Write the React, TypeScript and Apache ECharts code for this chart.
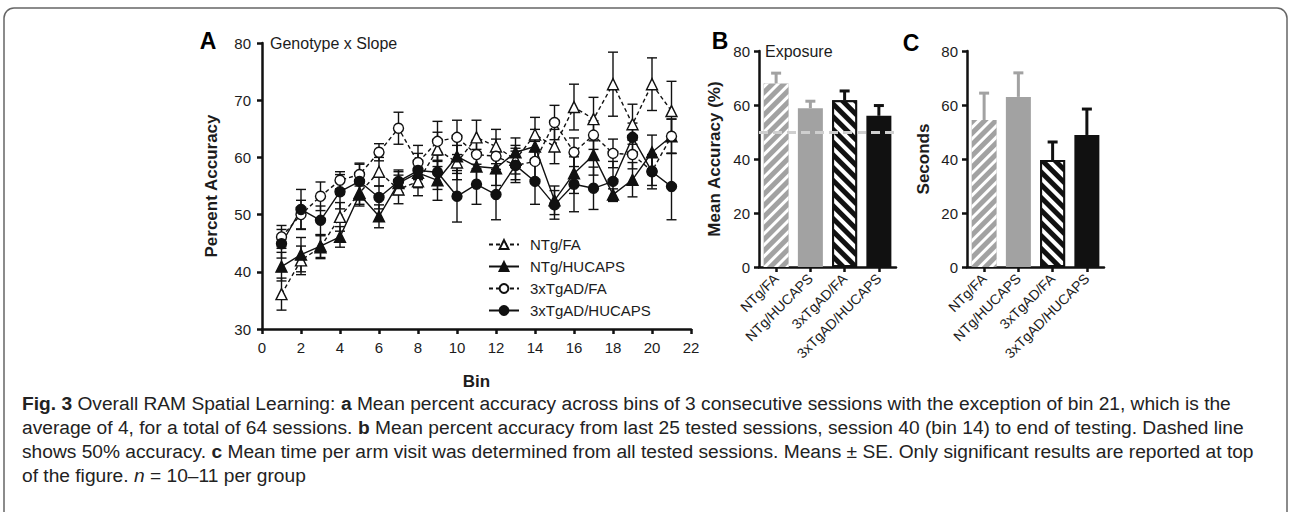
import React, { useEffect, useRef } from 'react';
import * as echarts from 'echarts';

const FONT = '"Liberation Sans", Arial, sans-serif';

// Panel A data
const bins = [1, 2, 3, 4, 5, 6, 7, 8, 9, 10, 11, 12, 13, 14, 15, 16, 17, 18, 19, 20, 21];
const lineNames = ['NTg/FA', 'NTg/HUCAPS', '3xTgAD/FA', '3xTgAD/HUCAPS'];
const ntgFA = [36.1, 42.0, 44.3, 49.6, 53.8, 57.5, 54.4, 55.8, 61.4, 59.1, 63.5, 61.9, 59.6, 64.0, 61.9, 68.8, 66.7, 72.8, 65.8, 72.8, 68.1];
const ntgFAse = [2.8, 2.5, 2.0, 2.5, 2.0, 2.5, 2.5, 2.5, 3.0, 3.0, 3.0, 3.0, 2.5, 3.0, 3.0, 4.0, 3.8, 5.6, 3.5, 4.6, 5.2];
const ntgHU = [40.9, 43.0, 44.5, 46.1, 53.5, 49.7, 55.5, 57.3, 56.0, 60.2, 58.4, 58.1, 60.9, 61.9, 52.5, 57.2, 60.4, 53.5, 56.1, 60.9, 63.7];
const ntgHUse = [2.5, 3.0, 2.0, 1.8, 2.0, 2.0, 2.0, 2.0, 3.5, 3.0, 3.0, 3.0, 2.5, 3.0, 2.5, 3.5, 3.5, 1.0, 3.0, 3.0, 3.0];
const tgFA = [46.1, 50.0, 53.2, 56.0, 57.0, 60.9, 65.1, 59.1, 62.8, 63.5, 60.5, 60.2, 58.6, 59.3, 66.1, 60.9, 63.9, 60.7, 60.5, 57.6, 63.7];
const tgFAse = [2.0, 2.5, 2.5, 1.5, 2.0, 1.5, 2.8, 3.0, 3.5, 3.0, 2.5, 3.0, 2.5, 3.5, 3.0, 2.5, 2.5, 2.5, 2.5, 2.5, 3.0];
const tgHU = [44.9, 50.9, 49.0, 54.0, 55.8, 53.0, 55.8, 57.7, 57.4, 53.2, 55.3, 53.5, 58.6, 55.8, 51.7, 55.3, 54.6, 55.8, 63.5, 57.5, 54.9];
const tgHUse = [2.5, 3.5, 2.5, 3.0, 3.0, 2.0, 2.0, 3.0, 3.0, 4.5, 3.5, 4.4, 3.0, 4.0, 2.5, 4.8, 3.7, 3.5, 2.5, 3.0, 5.8];

// Panels B and C data
const groups = ['NTg/FA', 'NTg/HUCAPS', '3xTgAD/FA', '3xTgAD/HUCAPS'];
const accMeans = [68.0, 58.8, 61.8, 56.0];
const accSE = [3.8, 2.6, 3.4, 3.8];
const chanceLevel = 50;
const secMeans = [54.4, 63.0, 39.6, 48.9];
const secSE = [10.0, 8.9, 6.7, 9.6];

const captionLines = [
  '{b|Fig. 3} Overall RAM Spatial Learning: {b|a} Mean percent accuracy across bins of 3 consecutive sessions with the exception of bin 21, which is the',
  'average of 4, for a total of 64 sessions. {b|b} Mean percent accuracy from last 25 tested sessions, session 40 (bin 14) to end of testing. Dashed line',
  'shows 50% accuracy. {b|c} Mean time per arm visit was determined from all tested sessions. Means \u00b1 SE. Only significant results are reported at top',
  'of the figure. {i|n} = 10\u201311 per group',
];

const GREY = '#a2a2a2';
const INK = '#1c1c1c';

function measureRich(line: string, size: number): number {
  const ctx = document.createElement('canvas').getContext('2d');
  if (!ctx) return 1;
  let total = 0;
  const re = /\{(b|i)\|([^}]*)\}/g;
  let last = 0;
  let m: RegExpExecArray | null;
  const parts: [string, string][] = [];
  while ((m = re.exec(line))) {
    if (m.index > last) parts.push(['n', line.slice(last, m.index)]);
    parts.push([m[1], m[2]]);
    last = m.index + m[0].length;
  }
  if (last < line.length) parts.push(['n', line.slice(last)]);
  for (const [k, t] of parts) {
    ctx.font = (k === 'b' ? 'bold ' : k === 'i' ? 'italic ' : '') + size + 'px ' + FONT;
    total += ctx.measureText(t).width;
  }
  return total;
}

function errLine(color: string, lw: number, cap: number, upOnly: boolean) {
  return (params: any, api: any) => {
    const x = api.value(0);
    const lo = api.value(1);
    const hi = api.value(2);
    const p1 = api.coord([x, lo]);
    const p2 = api.coord([x, hi]);
    const st = { stroke: color, lineWidth: lw };
    const children: any[] = [
      { type: 'line', shape: { x1: p1[0], y1: p1[1], x2: p2[0], y2: p2[1] }, style: st },
      { type: 'line', shape: { x1: p2[0] - cap, y1: p2[1], x2: p2[0] + cap, y2: p2[1] }, style: st },
    ];
    if (!upOnly) {
      children.push({ type: 'line', shape: { x1: p1[0] - cap, y1: p1[1], x2: p1[0] + cap, y2: p1[1] }, style: st });
    }
    return { type: 'group', children };
  };
}

export default function App() {
  const ref = useRef<HTMLDivElement>(null);
  useEffect(() => {
    if (!ref.current) return;
    const chart = echarts.init(ref.current, null, { renderer: 'svg' });

    const capSize = 19;
    const capScale = 1210 / measureRich(captionLines[0], capSize);

    const axisCommon = {
      axisLine: { show: true, lineStyle: { color: '#111', width: 2.5 } },
      axisTick: { show: true, length: 5, lineStyle: { color: '#111', width: 2.5 } },
      splitLine: { show: false },
    };

    const lineDefs = [
      { name: 'NTg/FA', data: ntgFA, se: ntgFAse, symbol: 'triangle', open: true, dashed: true, size: 11 },
      { name: 'NTg/HUCAPS', data: ntgHU, se: ntgHUse, symbol: 'triangle', open: false, dashed: false, size: 11 },
      { name: '3xTgAD/FA', data: tgFA, se: tgFAse, symbol: 'circle', open: true, dashed: true, size: 10 },
      { name: '3xTgAD/HUCAPS', data: tgHU, se: tgHUse, symbol: 'circle', open: false, dashed: false, size: 10 },
    ];

    const series: any[] = [];
    lineDefs.forEach((d) => {
      series.push({
        type: 'custom',
        xAxisIndex: 0,
        yAxisIndex: 0,
        z: 1,
        silent: true,
        renderItem: errLine('#111', 1.4, 5, false),
        data: bins.map((b, i) => [b, d.data[i] - d.se[i], d.data[i] + d.se[i]]),
      });
    });
    lineDefs.forEach((d) => {
      series.push({
        type: 'line',
        name: d.name,
        xAxisIndex: 0,
        yAxisIndex: 0,
        z: 3,
        symbol: d.symbol,
        symbolSize: d.size,
        showAllSymbol: true,
        lineStyle: { color: '#111', width: 1.4, type: d.dashed ? [4, 3] : 'solid' },
        itemStyle: { color: d.open ? '#fff' : '#111', borderColor: '#111', borderWidth: 1.4, opacity: 1 },
        data: bins.map((b, i) => [b, d.data[i]]),
      });
    });

    const barStyles = [
      { color: GREY, borderColor: GREY, borderWidth: 0, decal: { symbol: 'rect', symbolSize: 1, dashArrayX: [1, 0], dashArrayY: [3, 5], rotation: -Math.PI / 4, color: '#ffffff' } },
      { color: GREY, borderColor: GREY, borderWidth: 0 },
      { color: '#111', borderColor: '#111', borderWidth: 2, decal: { symbol: 'rect', symbolSize: 1, dashArrayX: [1, 0], dashArrayY: [4, 5], rotation: Math.PI / 4, color: '#ffffff' } },
      { color: '#111', borderColor: '#111', borderWidth: 0 },
    ];
    const errColors = [GREY, GREY, '#111', '#111'];

    // Panel B
    series.push({
      type: 'bar',
      xAxisIndex: 1,
      yAxisIndex: 1,
      barWidth: 25,
      z: 2,
      data: accMeans.map((v, i) => ({ value: v, itemStyle: barStyles[i] })),
      markLine: {
        silent: true,
        symbol: 'none',
        label: { show: false },
        lineStyle: { color: '#cfcfcf', type: [9, 5], width: 3 },
        data: [{ yAxis: chanceLevel }],
        z: 5,
      },
    });
    series.push({
      type: 'custom',
      xAxisIndex: 1,
      yAxisIndex: 1,
      z: 1,
      silent: true,
      renderItem: (p: any, api: any) => errLine(errColors[p.dataIndex], 3, 5, true)(p, api),
      data: accMeans.map((v, i) => [i, v, v + accSE[i]]),
    });
    // Panel C
    series.push({
      type: 'bar',
      xAxisIndex: 2,
      yAxisIndex: 2,
      barWidth: 25,
      z: 2,
      data: secMeans.map((v, i) => ({ value: v, itemStyle: barStyles[i] })),
    });
    series.push({
      type: 'custom',
      xAxisIndex: 2,
      yAxisIndex: 2,
      z: 1,
      silent: true,
      renderItem: (p: any, api: any) => errLine(errColors[p.dataIndex], 3, 5, true)(p, api),
      data: secMeans.map((v, i) => [i, v, v + secSE[i]]),
    });

    const labelStyle = { color: INK, fontSize: 15, fontFamily: FONT };
    const nameStyle = { color: INK, fontSize: 17, fontWeight: 'bold' as const, fontFamily: FONT };

    const option: any = {
      animation: false,
      backgroundColor: '#fff',
      textStyle: { fontFamily: FONT },
      grid: [
        { left: 262, top: 43, width: 429, height: 286 },
        { left: 759, top: 51, width: 137, height: 216 },
        { left: 967, top: 51, width: 137, height: 216 },
      ],
      xAxis: [
        {
          gridIndex: 0, type: 'value', min: 0, max: 22, interval: 2,
          ...axisCommon,
          axisLabel: { ...labelStyle, margin: 11 },
          name: 'Bin', nameLocation: 'middle', nameGap: 44, nameTextStyle: nameStyle,
        },
        {
          gridIndex: 1, type: 'category', data: groups,
          ...axisCommon,
          axisTick: { ...axisCommon.axisTick, alignWithLabel: true },
          axisLabel: { ...labelStyle, fontSize: 14, rotate: 45, margin: 9, interval: 0 },
        },
        {
          gridIndex: 2, type: 'category', data: groups,
          ...axisCommon,
          axisTick: { ...axisCommon.axisTick, alignWithLabel: true },
          axisLabel: { ...labelStyle, fontSize: 14, rotate: 45, margin: 9, interval: 0 },
        },
      ],
      yAxis: [
        {
          gridIndex: 0, type: 'value', min: 30, max: 80, interval: 10,
          ...axisCommon,
          axisLabel: { ...labelStyle, margin: 11 },
          name: 'Percent Accuracy', nameLocation: 'middle', nameGap: 42, nameTextStyle: nameStyle,
        },
        {
          gridIndex: 1, type: 'value', min: 0, max: 80, interval: 20,
          ...axisCommon,
          axisLabel: { ...labelStyle, margin: 9 },
          name: 'Mean Accuracy (%)', nameLocation: 'middle', nameGap: 36, nameTextStyle: nameStyle,
        },
        {
          gridIndex: 2, type: 'value', min: 0, max: 80, interval: 20,
          ...axisCommon,
          axisLabel: { ...labelStyle, margin: 9 },
          name: 'Seconds', nameLocation: 'middle', nameGap: 35, nameTextStyle: nameStyle,
        },
      ],
      legend: {
        data: lineNames,
        orient: 'vertical',
        left: 483,
        top: 232,
        itemWidth: 30,
        itemHeight: 11,
        itemGap: 7,
        textStyle: { color: INK, fontSize: 15, fontFamily: FONT, padding: [0, 0, 0, 6] },
        selectedMode: false,
      },
      series,
      graphic: [
        {
          type: 'rect', z: 0, silent: true,
          shape: { x: 4, y: 8, width: 1283, height: 520, r: 10 },
          style: { fill: 'none', stroke: '#666', lineWidth: 1.5 },
        },
        { type: 'text', x: 208, y: 41, style: { text: 'A', fontSize: 23, fontWeight: 'bold', fontFamily: FONT, fill: '#000', align: 'center', verticalAlign: 'middle' } },
        { type: 'text', x: 720, y: 41, style: { text: 'B', fontSize: 23, fontWeight: 'bold', fontFamily: FONT, fill: '#000', align: 'center', verticalAlign: 'middle' } },
        { type: 'text', x: 911, y: 43, style: { text: 'C', fontSize: 23, fontWeight: 'bold', fontFamily: FONT, fill: '#000', align: 'center', verticalAlign: 'middle' } },
        { type: 'text', x: 270, y: 43, style: { text: 'Genotype x Slope', fontSize: 16, fontFamily: FONT, fill: INK, align: 'left', verticalAlign: 'middle' } },
        { type: 'text', x: 765, y: 51, style: { text: 'Exposure', fontSize: 16, fontFamily: FONT, fill: INK, align: 'left', verticalAlign: 'middle' } },
        ...captionLines.map((t, i) => ({
          type: 'text',
          x: 22,
          y: 404 + i * 24,
          scaleX: capScale,
          style: {
            text: t,
            fontSize: capSize,
            fontFamily: FONT,
            fill: '#222',
            align: 'left',
            verticalAlign: 'middle',
            rich: {
              b: { fontSize: capSize, fontFamily: FONT, fontWeight: 'bold', fill: '#222' },
              i: { fontSize: capSize, fontFamily: FONT, fontStyle: 'italic', fill: '#222' },
            },
          },
        })),
      ],
    };
    chart.setOption(option);
    return () => chart.dispose();
  }, []);
  return <div ref={ref} style={{ position: 'fixed', left: 0, top: 0, width: 1292, height: 512 }} />;
}
